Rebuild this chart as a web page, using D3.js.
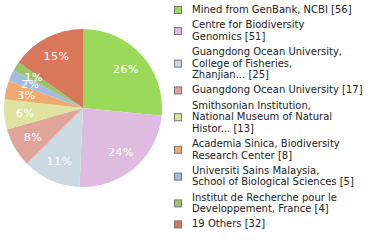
<!DOCTYPE html>
<html lang="en">
<head>
    <meta charset="UTF-8">
    <title>Pie chart</title>
    <script src="https://d3js.org/d3.v7.min.js"></script>
    <style>
        body {
            margin: 0;
            background: #fff;
            font-family: "DejaVu Sans", Verdana, sans-serif;
        }
        .pct {
            fill: #fff;
            font-size: 11px;
            letter-spacing: 0.5px;
        }
        .legend text {
            font-size: 10px;
            fill: #222;
        }
    </style>
</head>
<body>
    <div id="chart"></div>
    <script>
        // values and legend text
        const labels = [
            ["Mined from GenBank, NCBI [56]"],
            ["Centre for Biodiversity", "Genomics [51]"],
            ["Guangdong Ocean University,", "College of Fisheries,", "Zhanjian... [25]"],
            ["Guangdong Ocean University [17]"],
            ["Smithsonian Institution,", "National Museum of Natural", "Histor... [13]"],
            ["Academia Sinica, Biodiversity", "Research Center [8]"],
            ["Universiti Sains Malaysia,", "School of Biological Sciences [5]"],
            ["Institut de Recherche pour le", "Developpement, France [4]"],
            ["19 Others [32]"]
        ];
        const counts = [56, 51, 25, 17, 13, 8, 5, 4, 32];
        const colors = ["#9bd95a", "#dfbcdf", "#cbd9e4", "#e0a59a", "#dee39f",
                        "#f0aa70", "#a0bde0", "#9cc46a", "#d9775b"];

        const width = 380, height = 240;
        const cx = 83, cy = 108, radius = 79;

        const svg = d3.select("#chart")
            .append("svg")
            .attr("width", width)
            .attr("height", height);

        const total = d3.sum(counts);
        const pie = d3.pie().sort(null).value(d => d);
        const arcs = pie(counts);
        const arc = d3.arc().innerRadius(0).outerRadius(radius);
        const labelArc = d3.arc().innerRadius(58).outerRadius(58);

        const g = svg.append("g")
            .attr("transform", `translate(${cx},${cy})`);

        g.selectAll("path")
            .data(arcs)
            .enter()
            .append("path")
            .attr("d", arc)
            .attr("fill", (d, i) => colors[i]);

        g.selectAll(".pct")
            .data(arcs)
            .enter()
            .append("text")
            .attr("class", "pct")
            .attr("transform", d => `translate(${labelArc.centroid(d)})`)
            .attr("text-anchor", "middle")
            .attr("dy", "0.35em")
            .text(d => Math.floor(d.value / total * 100) + "%");

        // legend
        const lineH = 11.6, gap = 15.2;
        const legend = svg.append("g").attr("class", "legend");
        let y = 9.5;
        labels.forEach((lines, i) => {
            const n = lines.length;
            const mid = y + (n - 1) * lineH / 2;
            legend.append("rect")
                .attr("x", 174.5)
                .attr("y", mid - 3)
                .attr("width", 7)
                .attr("height", 7)
                .attr("fill", colors[i])
                .attr("stroke", "#777")
                .attr("stroke-width", 1);
            const t = legend.append("text");
            lines.forEach((s, j) => {
                t.append("tspan")
                    .attr("x", 192)
                    .attr("y", y + j * lineH)
                    .attr("dy", "0.35em")
                    .text(s);
            });
            y += (n - 1) * lineH + gap;
        });
    </script>
</body>
</html>
